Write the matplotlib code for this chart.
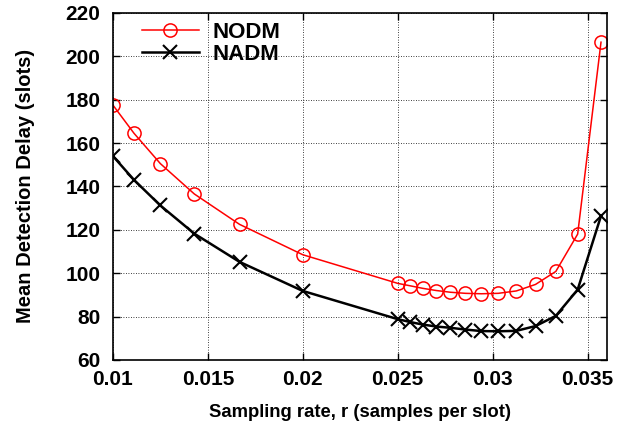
import numpy as np
import matplotlib
matplotlib.use("Agg")
import matplotlib.pyplot as plt

# sampling rates (samples per slot)
rate = [0.01, 0.01111, 0.0125, 0.01429, 0.01667, 0.02, 0.025, 0.02564, 0.02632,
        0.02703, 0.02778, 0.02857, 0.02941, 0.0303, 0.03125, 0.03226, 0.03333,
        0.03448, 0.03571]
nodm = [177.5, 164.5, 150.5, 136.5, 122.5, 108.5, 95.3, 94.2, 93.0, 92.0, 91.2,
        90.7, 90.5, 90.7, 91.8, 94.8, 100.8, 118.0, 206.5]
nadm = [154.0, 143.0, 131.2, 118.2, 105.2, 91.8, 78.8, 77.5, 76.3, 75.4, 74.8,
        74.0, 73.3, 73.2, 73.4, 75.6, 80.3, 92.4, 126.4]

plt.rcParams['font.family'] = ['Liberation Sans', 'DejaVu Sans']
plt.rcParams['font.weight'] = 'bold'

fig, ax = plt.subplots(figsize=(6.17, 4.30), dpi=100)

ax.plot(rate, nodm, color='red', lw=1.1, marker='o', ms=9.5, mfc='none',
        mec='red', mew=1.1, label='NODM')
ax.plot(rate, nadm, color='black', lw=1.8, marker='x', ms=9.5, mew=1.5,
        label='NADM')

ax.set_xlim(0.01, 0.036)
ax.set_ylim(60, 220)
ax.set_xticks([0.01, 0.015, 0.02, 0.025, 0.03, 0.035])
ax.set_xticklabels(['0.01', '0.015', '0.02', '0.025', '0.03', '0.035'])
ax.set_yticks(np.arange(60, 221, 20))

ax.grid(True, linestyle=(0, (1, 2)), color='black', lw=0.6)
ax.tick_params(direction='in', top=True, right=True, labelsize=15, length=5,
               width=1)
ax.tick_params(axis='y', pad=9)
ax.tick_params(axis='x', pad=7)
for lab in ax.get_xticklabels() + ax.get_yticklabels():
    lab.set_fontweight('bold')
for s in ax.spines.values():
    s.set_linewidth(1.2)

ax.set_xlabel('Sampling rate, r (samples per slot)', fontsize=13.3,
              fontweight='bold', labelpad=11)
ax.set_ylabel('Mean Detection Delay (slots)', fontsize=14.5,
              fontweight='bold', labelpad=22)

leg = ax.legend(loc='upper left', frameon=False, fontsize=16, handlelength=2.6,
                borderaxespad=0.0, handletextpad=0.6, labelspacing=0.05,
                bbox_to_anchor=(0.04, 1.0))
for t in leg.get_texts():
    t.set_fontweight('bold')

plt.subplots_adjust(left=0.183, right=0.983, top=0.97, bottom=0.163)
plt.savefig('out.png', dpi=100)
